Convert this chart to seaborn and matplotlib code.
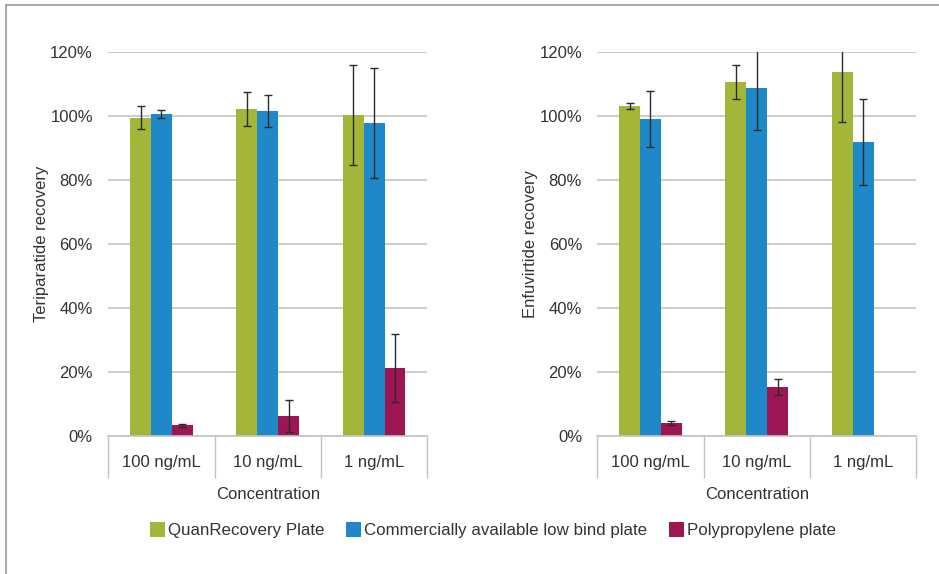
import numpy as np
import pandas as pd
import matplotlib
matplotlib.use("Agg")
import matplotlib.pyplot as plt
from matplotlib.lines import Line2D
from matplotlib.patches import Patch
from matplotlib.ticker import FuncFormatter
import seaborn as sns

# Recovery data (% of nominal) for two peptides at three concentrations
concentrations = ["100 ng/mL", "10 ng/mL", "1 ng/mL"]
plates = ["QuanRecovery Plate", "Commercially available low bind plate", "Polypropylene plate"]

teri_quan = [99.4, 102.1, 100.2]
teri_lowbind = [100.6, 101.5, 97.7]
teri_pp = [3.2, 6.2, 21.2]
teri_quan_err = [3.5, 5.3, 15.7]
teri_lowbind_err = [1.3, 5.0, 17.3]
teri_pp_err = [0.6, 5.1, 10.7]

enfu_quan = [103.0, 110.5, 113.7]
enfu_lowbind = [99.0, 108.6, 91.8]
enfu_pp = [4.0, 15.2, 0.0]
enfu_quan_err = [0.9, 5.2, 15.6]
enfu_lowbind_err = [8.8, 13.2, 13.5]
enfu_pp_err = [0.6, 2.4, 0.0]

y_ticks = [0, 20, 40, 60, 80, 100, 120]

colors = ["#A3B63A", "#1E88C8", "#9C1654"]
text_color = "#333333"
grid_color = "#C4C4C4"
fs = 12

sns.set_theme(style="white")
plt.rcParams["font.family"] = ["Liberation Sans", "DejaVu Sans"]
plt.rcParams["font.size"] = fs


def make_frame(vals, errs):
    rows = []
    for p, v_list, e_list in zip(plates, vals, errs):
        for c, v, e in zip(concentrations, v_list, e_list):
            rows.append({"Concentration": c, "Plate": p, "Recovery": v, "Err": e})
    return pd.DataFrame(rows)


fig = plt.figure(figsize=(9.39, 5.74), dpi=100)
ax_l = fig.add_axes([0.1153, 0.2409, 0.3397, 0.669])
ax_r = fig.add_axes([0.6361, 0.2409, 0.3397, 0.669])

panels = [
    (ax_l, make_frame([teri_quan, teri_lowbind, teri_pp],
                      [teri_quan_err, teri_lowbind_err, teri_pp_err]), "Teriparatide recovery"),
    (ax_r, make_frame([enfu_quan, enfu_lowbind, enfu_pp],
                      [enfu_quan_err, enfu_lowbind_err, enfu_pp_err]), "Enfuvirtide recovery"),
]

for ax, df, ylab in panels:
    sns.barplot(data=df, x="Concentration", y="Recovery", hue="Plate",
                hue_order=plates, order=concentrations, palette=colors,
                width=0.59, gap=0, errorbar=None, legend=False,
                saturation=1, linewidth=0, ax=ax, zorder=2)
    # error bars placed at the centres of the drawn bars
    for container, plate in zip(ax.containers, plates):
        sub = df[df["Plate"] == plate].set_index("Concentration").loc[concentrations]
        xs = [b.get_x() + b.get_width() / 2 for b in container]
        hs = [b.get_height() for b in container]
        errs = sub["Err"].values
        mask = errs > 0
        ax.errorbar(np.array(xs)[mask], np.array(hs)[mask], yerr=errs[mask],
                    fmt="none", ecolor="#2A2A2A", elinewidth=1.0,
                    capsize=3.2, capthick=1.0, zorder=3)

    ax.set_ylim(0, 120)
    ax.set_xlim(-0.5, 2.5)
    ax.set_yticks(y_ticks)
    ax.yaxis.set_major_formatter(FuncFormatter(lambda v, _: f"{v:.0f}%"))
    ax.yaxis.grid(True, color=grid_color, linewidth=1.2, zorder=0)
    ax.set_axisbelow(True)
    for s in ["top", "right", "left"]:
        ax.spines[s].set_visible(False)
    ax.spines["bottom"].set_color(grid_color)
    ax.spines["bottom"].set_linewidth(1.2)

    # category dividers below the axis
    ax.set_xticks([-0.5, 0.5, 1.5, 2.5], minor=True)
    ax.tick_params(axis="x", which="minor", length=30, width=1.0,
                   color=grid_color, direction="out", bottom=True)
    ax.tick_params(axis="x", which="major", length=0, pad=14,
                   labelcolor=text_color, labelsize=fs)
    ax.tick_params(axis="y", length=0, pad=11, labelcolor=text_color, labelsize=fs)

    ax.set_xlabel("Concentration", color=text_color, fontsize=fs, va="center")
    ax.xaxis.set_label_coords(0.5, -0.152)
    ax.set_ylabel(ylab, color=text_color, fontsize=fs, va="center")
    ax.yaxis.set_label_coords(-0.21, 0.5)

# legend under both panels
handles = [Patch(facecolor=c, edgecolor="none") for c in colors]
fig.legend(handles, plates, loc="center", bbox_to_anchor=(0.525, 0.076), ncol=3,
           frameon=False, handlelength=0.9, handleheight=0.9, handletextpad=0.2,
           columnspacing=1.25, fontsize=12.2, labelcolor=text_color)

# thin frame on the left and top edges
fig.add_artist(Line2D([6 / 939, 6 / 939], [0, 1 - 5 / 574], transform=fig.transFigure,
                      color="#9A9A9A", linewidth=1.2))
fig.add_artist(Line2D([6 / 939, 1], [1 - 5 / 574, 1 - 5 / 574], transform=fig.transFigure,
                      color="#9A9A9A", linewidth=1.2))

fig.savefig("out.png", dpi=100, facecolor="white")
